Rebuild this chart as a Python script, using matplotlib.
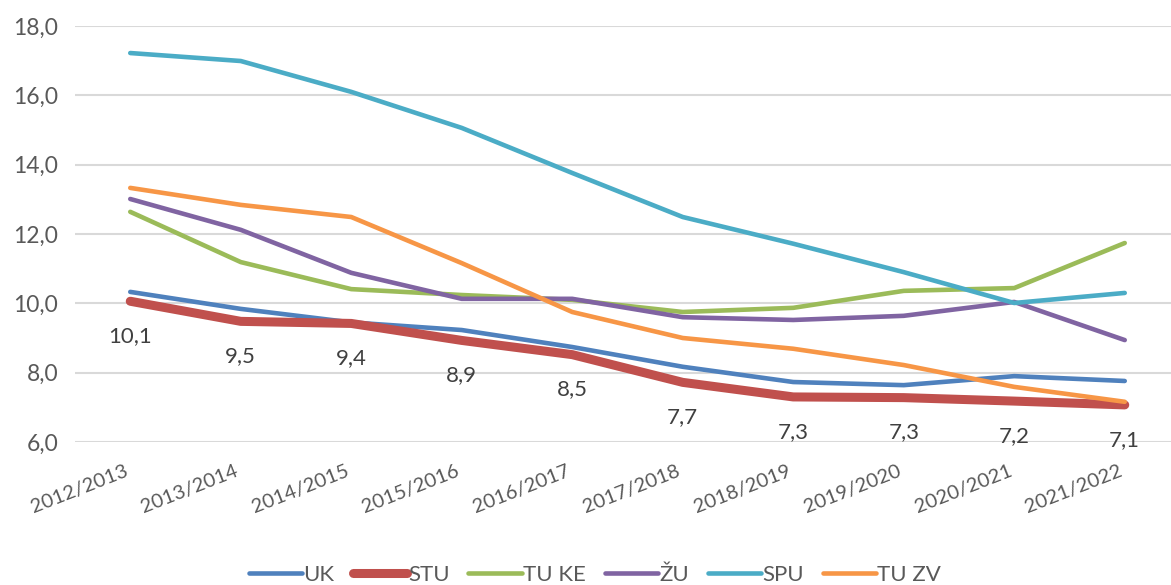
import numpy as np
import matplotlib.pyplot as plt

# data
years = ["2012/2013", "2013/2014", "2014/2015", "2015/2016", "2016/2017",
         "2017/2018", "2018/2019", "2019/2020", "2020/2021", "2021/2022"]

uk = [10.33, 9.84, 9.45, 9.23, 8.74, 8.17, 7.73, 7.64, 7.90, 7.76]
stu = [10.06, 9.48, 9.42, 8.93, 8.52, 7.72, 7.30, 7.28, 7.18, 7.07]
tu_ke = [12.64, 11.19, 10.41, 10.24, 10.10, 9.75, 9.87, 10.36, 10.44, 11.74]
zu = [13.01, 12.12, 10.88, 10.13, 10.13, 9.60, 9.52, 9.64, 10.04, 8.94]
spu = [17.22, 16.99, 16.10, 15.06, 13.76, 12.49, 11.72, 10.90, 10.01, 10.30]
tu_zv = [13.33, 12.84, 12.49, 11.16, 9.75, 9.00, 8.69, 8.22, 7.59, 7.16]

series_names = ["UK", "STU", "TU KE", "ŽU", "SPU", "TU ZV"]
colors = ["#4F81BD", "#C0504D", "#9BBB59", "#8064A2", "#4BACC6", "#F79646"]

plt.rcParams['font.family'] = ['Lato', 'DejaVu Sans']

fig = plt.figure(figsize=(11.71, 5.85), dpi=100)
ax = fig.add_axes([75 / 1171, 1 - 442 / 585, 1105 / 1171, 416 / 585])

x = np.arange(len(years))
all_series = [uk, stu, tu_ke, zu, spu, tu_zv]
for name, vals, col in zip(series_names, all_series, colors):
    lw = 6.5 if name == "STU" else 3.3
    ax.plot(x, vals, color=col, lw=lw, label=name,
            solid_capstyle='round', solid_joinstyle='round')

# data labels for STU below the points
for xi, v in zip(x, stu):
    ax.annotate(f"{v:.1f}".replace(".", ","), (xi, v), xytext=(0, -25),
                textcoords='offset points', ha='center', va='center',
                fontsize=16, color='#404040')

ax.set_xlim(-0.5, len(years) - 0.5)
ax.set_ylim(6, 18)
yt = np.arange(6, 18.1, 2)
ax.set_yticks(yt)
ax.set_yticklabels([f"{t:.1f}".replace(".", ",") for t in yt])
ax.set_xticks(x)
ax.set_xticklabels(years, rotation=21.5, ha='right', va='top')

ax.tick_params(axis='y', length=0, pad=12, labelsize=16.5, labelcolor='#595959')
ax.tick_params(axis='x', length=0, pad=14.5, labelsize=14.5, labelcolor='#595959')
ax.grid(axis='y', color='#D9D9D9', lw=1.5)
ax.set_axisbelow(True)
for s in ax.spines.values():
    s.set_visible(False)

fig.legend(loc='center', bbox_to_anchor=(595 / 1171, 1 - 575 / 585), ncol=6,
           frameon=False, fontsize=16, handlelength=2.4, handletextpad=0.05,
           columnspacing=0.85, labelcolor='#595959')

fig.savefig("out.png", dpi=100)
